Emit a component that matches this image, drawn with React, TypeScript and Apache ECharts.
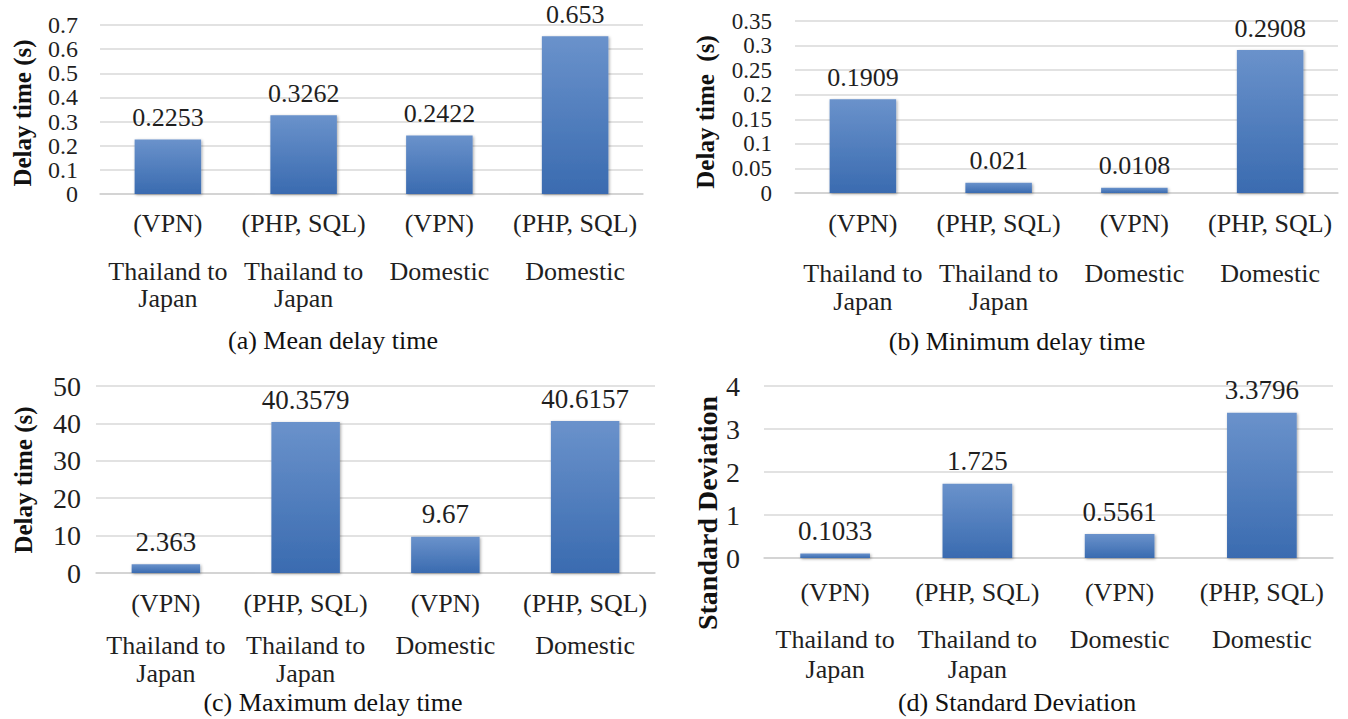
import React, { useEffect, useRef } from "react";
import * as echarts from "echarts";

const protocolLabels = ["(VPN)", "(PHP, SQL)", "(VPN)", "(PHP, SQL)"];
const routeLabels = ["Thailand to\nJapan", "Thailand to\nJapan", "Domestic", "Domestic"];
const meanDelay = [0.2253, 0.3262, 0.2422, 0.653];
const minDelay = [0.1909, 0.021, 0.0108, 0.2908];
const maxDelay = [2.363, 40.3579, 9.67, 40.6157];
const stdDev = [0.1033, 1.725, 0.5561, 3.3796];

const captions = [
  "(a) Mean delay time",
  "(b) Minimum delay time",
  "(c) Maximum delay time",
  "(d) Standard Deviation",
];
const yNames = ["Delay time (s)", "Delay time  (s)", "Delay time (s)", "Standard Deviation"];
const yMax = [0.7, 0.35, 50, 4];
const yInterval = [0.1, 0.05, 10, 1];

const FONT = "Liberation Serif";
const TXT = "#1f1f1f";

const grids = [
  { left: 100, top: 25, width: 543, height: 169 },
  { left: 795, top: 21, width: 543, height: 172 },
  { left: 96, top: 386, width: 559, height: 187 },
  { left: 764, top: 386, width: 569, height: 172 },
];
const captionPos = [
  [333, 340],
  [1017, 341],
  [333, 702],
  [1017, 702],
];
const namePos = [
  [22, 113],
  [705, 112],
  [23, 480],
  [707, 513],
];
const nameSize = [25, 25, 25, 28];
const tickSize = [24, 23, 28, 28];
const valueSize = [26, 26, 27, 27];
const m1 = [16, 17, 17, 21];
const m2 = [64, 66, 58, 66];
const routeLH = [27, 28, 28, 30];
const tickMargin = [22, 23, 15, 24];

export default function App() {
  const ref = useRef<HTMLDivElement>(null);
  useEffect(() => {
    if (!ref.current) return;
    const chart = echarts.init(ref.current, null, { renderer: "svg" });
    const datasets = [meanDelay, minDelay, maxDelay, stdDev];
    const barColor = new echarts.graphic.LinearGradient(0, 0, 0, 1, [
      { offset: 0, color: "#6a92cb" },
      { offset: 1, color: "#3a6bb0" },
    ]);
    const xAxes: any[] = [];
    grids.forEach((_, i) => {
      xAxes.push({
        type: "category",
        gridIndex: i,
        position: "bottom",
        data: protocolLabels,
        axisLine: { show: true, lineStyle: { color: "#d0d0d0", width: 1.5 } },
        axisTick: { show: false },
        axisLabel: {
          interval: 0,
          fontFamily: FONT,
          fontSize: 26,
          lineHeight: 26,
          color: TXT,
          margin: m1[i],
          verticalAlign: "top",
        },
      });
    });
    grids.forEach((_, i) => {
      xAxes.push({
        type: "category",
        gridIndex: i,
        position: "bottom",
        offset: 0,
        data: routeLabels,
        axisLine: { show: false },
        axisTick: { show: false },
        splitLine: { show: false },
        axisLabel: {
          interval: 0,
          fontFamily: FONT,
          fontSize: 26,
          lineHeight: routeLH[i],
          color: TXT,
          margin: m2[i],
          verticalAlign: "top",
        },
      });
    });
    const option = {
      animation: false,
      backgroundColor: "#ffffff",
      textStyle: { fontFamily: FONT },
      grid: grids.map((g) => ({ ...g, containLabel: false })),
      xAxis: xAxes,
      yAxis: grids.map((_, i) => ({
        type: "value",
        gridIndex: i,
        min: 0,
        max: yMax[i],
        interval: yInterval[i],
        axisLine: { show: false },
        axisTick: { show: false },
        splitLine: { show: true, lineStyle: { color: "#d9d9d9", width: 1.5 } },
        axisLabel: {
          fontFamily: FONT,
          fontSize: tickSize[i],
          color: TXT,
          margin: tickMargin[i],
        },
      })),
      series: datasets.map((d, i) => ({
        type: "bar",
        xAxisIndex: i,
        yAxisIndex: i,
        data: d,
        barWidth: "49%",
        itemStyle: {
          color: barColor,
          shadowColor: "rgba(0,0,0,0.35)",
          shadowBlur: 3,
          shadowOffsetX: 1,
          shadowOffsetY: 1,
        },
        label: {
          show: true,
          position: "top",
          distance: 9,
          fontFamily: FONT,
          fontSize: valueSize[i],
          color: TXT,
          formatter: (p: any) => String(p.value),
        },
      })),
      graphic: [
        ...captions.map((c, i) => ({
          type: "text",
          x: captionPos[i][0],
          y: captionPos[i][1],
          style: {
            text: c,
            fontFamily: FONT,
            fontSize: 26,
            fill: "#111",
            textAlign: "center",
            textVerticalAlign: "middle",
          },
        })),
        ...yNames.map((n, i) => ({
          type: "text",
          x: namePos[i][0],
          y: namePos[i][1],
          rotation: Math.PI / 2,
          style: {
            text: n,
            fontFamily: FONT,
            fontSize: nameSize[i],
            fontWeight: "bold",
            fill: "#111",
            textAlign: "center",
            textVerticalAlign: "middle",
          },
        })),
      ],
    };
    chart.setOption(option as any);
    return () => chart.dispose();
  }, []);
  return (
    <div
      ref={ref}
      style={{ position: "absolute", left: 0, top: 0, width: 1348, height: 719 }}
    />
  );
}
